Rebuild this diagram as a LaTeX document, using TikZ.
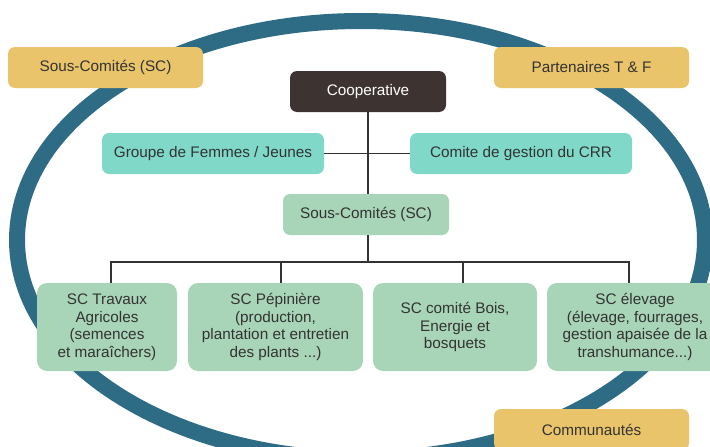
\documentclass[tikz,border=0pt]{standalone}
\usepackage{fontspec}
\setmainfont{Liberation Sans}
\definecolor{ringblue}{HTML}{2E6B85}
\definecolor{sandyellow}{HTML}{E9C46A}
\definecolor{coopbrown}{HTML}{3D3432}
\definecolor{mintteal}{HTML}{80D9C8}
\definecolor{sagegreen}{HTML}{A8D5B7}
\definecolor{textgray}{HTML}{333333}
\begin{document}
\begin{tikzpicture}[x=1pt,y=-1pt]
	% Styles of the boxes
	\tikzset{box/.style={rounded corners=7pt,minimum height=41pt,inner sep=0pt,align=center,text=textgray,font=\fontsize{15.3}{17.5}\selectfont}}
	\tikzset{outer box/.style={box,fill=sandyellow,minimum width=195pt}}
	\tikzset{mid box/.style={box,fill=mintteal,minimum width=222pt}}
	\tikzset{sub box/.style={box,fill=sagegreen,rounded corners=10pt,minimum height=88pt}}
	\tikzset{tree/.style={color=textgray,line width=1.5pt}}
	\useasboundingbox (0,0) rectangle (710,447);

	% Draw the ring
	\draw[ringblue,line width=16pt] (361,240) ellipse [x radius=344pt,y radius=219pt];

	 \node [outer box] (sctop) at (105.5,67.5) {Sous-Comités (SC)};
	 \node [outer box] (partners) at (591.5,67.5) {Partenaires T \& F};
	 \node [outer box] (communities) at (591.5,429.5) {Communautés};

	 \node [box,fill=coopbrown,text=white,minimum width=156pt] (coop) at (368,91.5) {Cooperative};
	 \node [mid box] (women) at (213,153.5) {Groupe de Femmes / Jeunes};
	 \node [mid box] (crr) at (521,153.5) {Comite de gestion du CRR};
	 \node [box,fill=sagegreen,minimum width=166pt] (scmid) at (366,214.5) {Sous-Comités (SC)};

	 \node [sub box,minimum width=140pt] (works) at (107,327) {SC Travaux\\Agricoles\\(semences\\et maraîchers)};
	 \node [sub box,minimum width=175pt] (nursery) at (275.5,327) {SC Pépinière\\(production,\\plantation et entretien\\des plants ...)};
	 \node [sub box,minimum width=164pt] (wood) at (455,327) {SC comité Bois,\\Energie et\\bosquets};
	 \node [sub box,minimum width=176pt] (breeding) at (635,327) {SC élevage\\(élevage, fourrages,\\gestion apaisée de la\\transhumance...)};

	% Draw the tree
	 \coordinate (bar) at (368,262);
	 \draw[tree] (coop.south) -- (coop.south |- scmid.north);
	 \draw[tree] (women.east) -- (crr.west);
	 \draw[tree] (coop.south |- scmid.south) -- (bar);
	 \draw[tree] ([xshift=4pt]works.north) |- (bar) -| ([xshift=-6pt]breeding.north);
	 \draw[tree] ([xshift=5.5pt]nursery.north) -- ([xshift=5.5pt]nursery.north |- bar);
	 \draw[tree] ([xshift=8pt]wood.north) -- ([xshift=8pt]wood.north |- bar);

	\end{tikzpicture}
\end{document}
